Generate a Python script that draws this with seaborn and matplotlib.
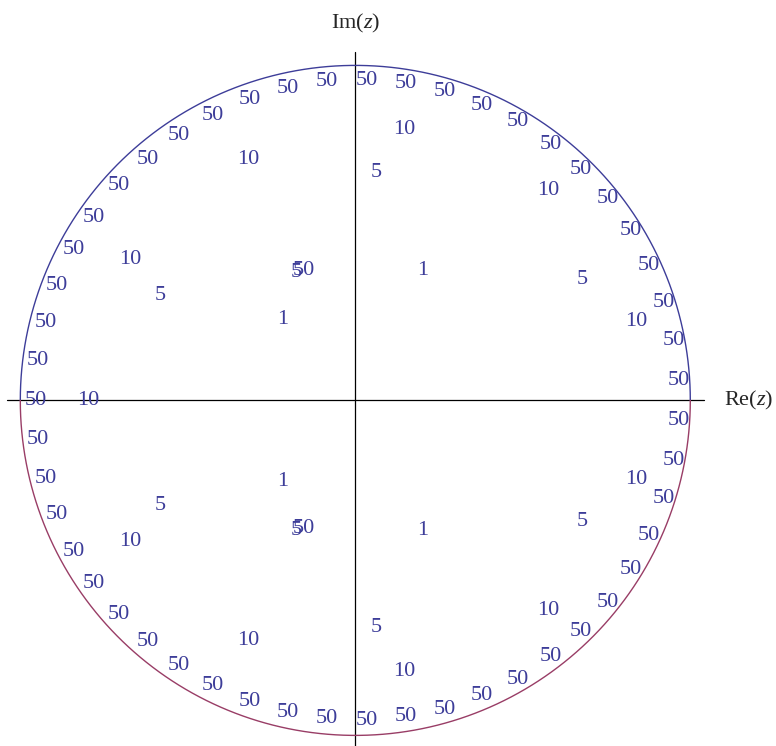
import numpy as np
import matplotlib
matplotlib.use("Agg")
import matplotlib.pyplot as plt
import seaborn as sns

# Zero locations in the complex plane, grouped by the label they carry
re_50 = [0.035, -0.084, -0.201, -0.314, -0.425, -0.526, -0.619, -0.706, -0.780, -0.840,
         -0.891, -0.923, -0.947, -0.953, 0.151, 0.268, 0.378, 0.486, 0.584, 0.674,
         0.754, 0.823, 0.877, 0.922, 0.952, 0.966, -0.155,
         0.035, -0.084, -0.201, -0.314, -0.425, -0.526, -0.619, -0.706, -0.780, -0.840,
         -0.891, -0.923, -0.947, 0.151, 0.268, 0.378, 0.486, 0.584, 0.674,
         0.754, 0.823, 0.877, 0.922, 0.952, 0.966, -0.155]
im_50 = [0.956, 0.951, 0.931, 0.898, 0.850, 0.790, 0.720, 0.640, 0.547, 0.451,
         0.342, 0.233, 0.118, 0.000, 0.945, 0.922, 0.880, 0.832, 0.765, 0.690,
         0.602, 0.506, 0.402, 0.292, 0.178, 0.059, 0.388,
         -0.956, -0.951, -0.931, -0.898, -0.850, -0.790, -0.720, -0.640, -0.547, -0.451,
         -0.342, -0.233, -0.118, -0.945, -0.922, -0.880, -0.832, -0.765, -0.690,
         -0.602, -0.506, -0.402, -0.292, -0.178, -0.059, -0.381]

re_10 = [0.145, -0.320, 0.575, -0.673, 0.839, -0.798, 0.145, -0.320, 0.575, -0.673, 0.839]
im_10 = [0.809, 0.718, 0.627, 0.421, 0.236, 0.000, -0.809, -0.718, -0.627, -0.421, -0.236]

re_5 = [0.062, -0.583, 0.677, -0.175, 0.062, -0.583, 0.677, -0.175]
im_5 = [0.679, 0.314, 0.360, 0.382, -0.679, -0.314, -0.360, -0.387]

re_1 = [0.202, -0.216, 0.202, -0.216]
im_1 = [0.387, 0.241, -0.387, -0.241]

groups = [("50", re_50, im_50), ("10", re_10, im_10), ("5", re_5, im_5), ("1", re_1, im_1)]

BLUE = "#3D3D99"
PLUM = "#993D66"

sns.set_theme(style="white")
plt.rcParams["font.family"] = ["Liberation Serif", "DejaVu Serif"]
plt.rcParams["mathtext.fontset"] = "custom"
plt.rcParams["mathtext.rm"] = "Liberation Serif"
plt.rcParams["mathtext.it"] = "Liberation Serif:italic"

fig = plt.figure(figsize=(7.76, 7.46), dpi=100)
ax = fig.add_axes([0, 0, 1, 1])

# unit circle: upper and lower halves
t = np.linspace(0, np.pi, 400)
sns.lineplot(x=np.cos(t), y=np.sin(t), sort=False, estimator=None, color=BLUE,
             linewidth=1.0, ax=ax)
sns.lineplot(x=np.cos(t), y=-np.sin(t), sort=False, estimator=None, color=PLUM,
             linewidth=1.0, ax=ax)

# coordinate axes
ext = 1.04
ax.plot([-ext, ext], [0, 0], color="black", linewidth=0.9, zorder=1)
ax.plot([0, 0], [-ext, ext], color="black", linewidth=0.9, zorder=1)

for label, xs, ys in groups:
    for x, y in zip(xs, ys):
        ax.text(x, y, label, color=BLUE, fontsize=16, ha="center", va="center", zorder=3)

ax.text(ext + 0.060, 0.0, r"$\mathrm{Re}(z)$", fontsize=16, ha="left", va="center")
ax.text(0.0, ext + 0.085, r"$\mathrm{Im}(z)$", fontsize=16, ha="center", va="center")

scale = 335.0
ax.set_xlim(-355.3 / scale, (776 - 355.3) / scale)
ax.set_ylim(-(746 - 400.4) / scale, 400.4 / scale)
ax.set_axis_off()

fig.savefig("out.png", dpi=100)
